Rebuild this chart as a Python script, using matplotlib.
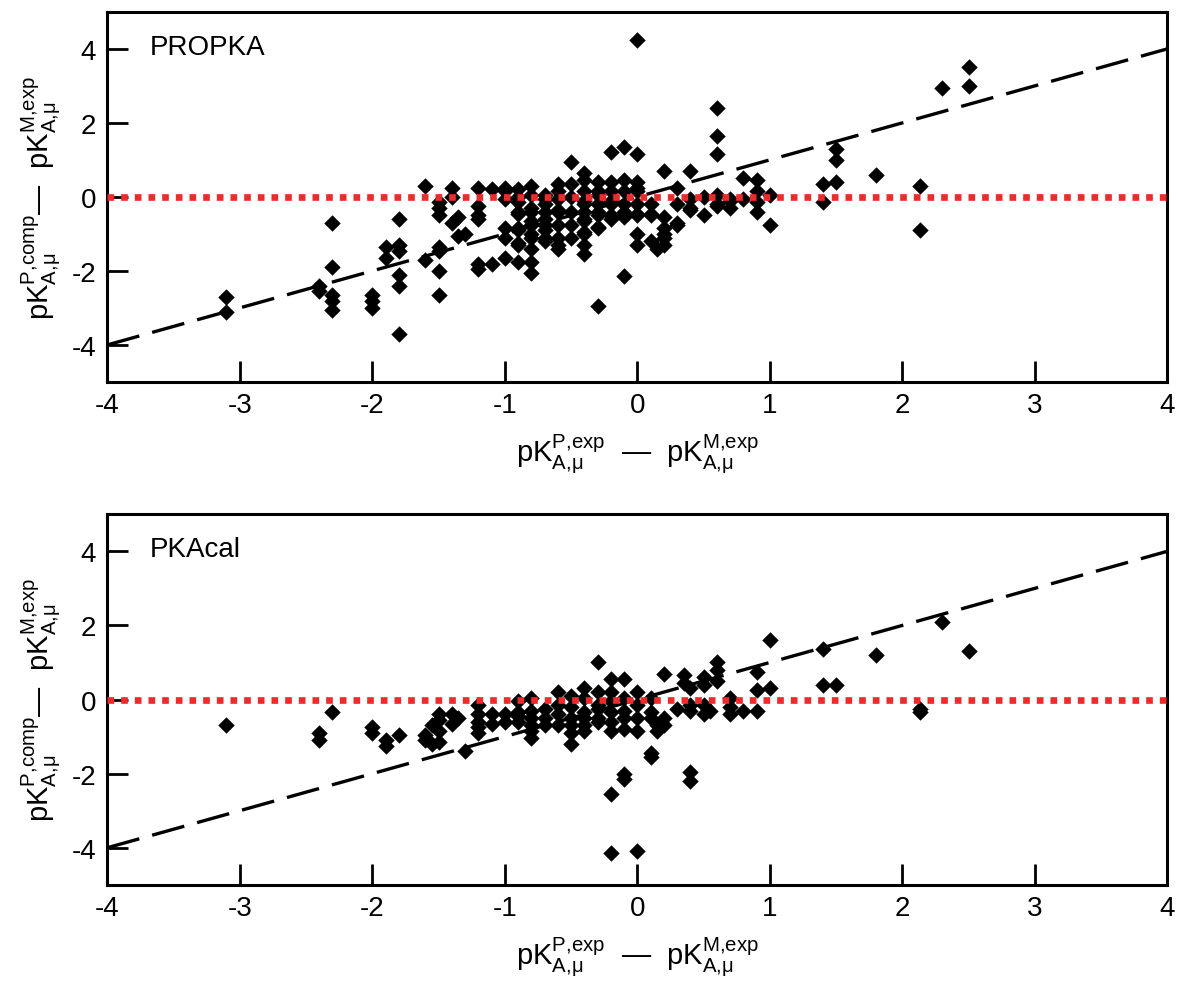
import matplotlib
matplotlib.use("Agg")
import matplotlib.pyplot as plt

plt.rcParams['font.family'] = ['Liberation Sans', 'DejaVu Sans']
plt.rcParams['mathtext.fontset'] = 'custom'
plt.rcParams['mathtext.rm'] = 'Liberation Sans'
plt.rcParams['mathtext.it'] = 'Liberation Sans:italic'
plt.rcParams['mathtext.bf'] = 'Liberation Sans:bold'
plt.rcParams['axes.unicode_minus'] = False

# PROPKA panel: experimental shift (x) vs computed shift (y)
propka_x = [-3.1, -3.1,
            -2.4, -2.4,
            -2.3, -2.3, -2.3, -2.3, -2.3,
            -2.0, -2.0, -2.0,
            -1.9, -1.9,
            -1.8, -1.8, -1.8, -1.8, -1.8, -1.8,
            -1.6, -1.6,
            -1.5, -1.5, -1.5, -1.5, -1.5, -1.5, -1.5,
            -1.4, -1.4, -1.4,
            -1.35, -1.35,
            -1.3,
            -1.2, -1.2, -1.2, -1.2, -1.2, -1.2,
            -1.1, -1.1,
            -1.0, -1.0, -1.0, -1.0, -1.0, -1.0,
            -0.9, -0.9, -0.9, -0.9, -0.9, -0.9, -0.9, -0.9, -0.9, -0.9,
            -0.8, -0.8, -0.8, -0.8, -0.8, -0.8, -0.8, -0.8, -0.8, -0.8, -0.8,
            -0.7, -0.7, -0.7, -0.7, -0.7, -0.7, -0.7, -0.7, -0.7,
            -0.6, -0.6, -0.6, -0.6, -0.6, -0.6, -0.6, -0.6, -0.6,
            -0.5, -0.5, -0.5, -0.5, -0.5, -0.5,
            -0.4, -0.4, -0.4, -0.4, -0.4, -0.4, -0.4, -0.4, -0.4, -0.4, -0.4, -0.4,
            -0.3, -0.3, -0.3, -0.3, -0.3, -0.3, -0.3, -0.3, -0.3,
            -0.2, -0.2, -0.2, -0.2, -0.2, -0.2, -0.2,
            -0.1, -0.1, -0.1, -0.1, -0.1, -0.1, -0.1, -0.1,
            0.0, 0.0, 0.0, 0.0, 0.0, 0.0, 0.0, 0.0, 0.0, 0.0,
            0.1, 0.1, 0.1, 0.1,
            0.15,
            0.2, 0.2, 0.2, 0.2, 0.2, 0.2,
            0.3, 0.3, 0.3, 0.3,
            0.4, 0.4, 0.4, 0.4,
            0.5, 0.5,
            0.6, 0.6, 0.6, 0.6, 0.6, 0.6,
            0.7, 0.7, 0.7,
            0.8, 0.8,
            0.9, 0.9, 0.9, 0.9,
            1.0, 1.0,
            1.4, 1.4,
            1.5, 1.5, 1.5,
            1.8,
            2.13, 2.13,
            2.3,
            2.5, 2.5]
propka_y = [-3.1, -2.7,
            -2.4, -2.55,
            -0.7, -1.9, -2.65, -2.8, -3.05,
            -2.65, -2.8, -3.0,
            -1.35, -1.65,
            -0.6, -1.3, -1.45, -2.1, -2.4, -3.7,
            0.3, -1.7,
            -0.5, -0.3, -0.15, -1.35, -1.45, -2.0, -2.65,
            0.25, 0.0, -0.7,
            -0.55, -1.05,
            -1.0,
            0.25, -0.25, -0.5, -0.6, -1.8, -1.95,
            0.2, -1.8,
            0.25, 0.15, -0.05, -0.85, -1.1, -1.65,
            0.2, 0.0, -0.15, -0.4, -0.45, -0.85, -0.9, -1.25, -1.3, -1.75,
            0.3, 0.05, -0.3, -0.4, -0.65, -0.75, -1.0, -1.1, -1.4, -1.75, -2.05,
            0.05, -0.05, -0.2, -0.4, -0.6, -0.75, -0.9, -1.1, -1.2,
            0.35, 0.15, -0.05, -0.35, -0.4, -0.75, -1.1, -1.3, -1.4,
            0.95, 0.35, 0.0, -0.4, -0.75, -1.1,
            0.65, 0.45, 0.15, -0.1, -0.2, -0.4, -0.6, -0.65, -0.95, -1.0, -1.3, -1.55,
            0.4, 0.15, 0.05, -0.2, -0.4, -0.5, -0.8, -0.85, -2.95,
            1.2, 0.4, 0.15, -0.1, -0.2, -0.5, -0.6,
            1.35, 0.45, 0.15, -0.2, -0.4, -0.5, -0.55, -2.15,
            4.25, 1.15, 0.4, 0.25, 0.15, -0.2, -0.45, -0.5, -1.0, -1.3,
            -0.2, -0.45, -0.5, -1.2,
            -1.4,
            0.7, -0.55, -0.85, -1.0, -1.1, -1.3,
            0.25, -0.2, -0.7, -0.75,
            0.7, -0.05, -0.3, -0.35,
            0.0, -0.5,
            2.4, 1.65, 1.15, 0.05, -0.2, -0.25,
            -0.05, -0.1, -0.3,
            0.5, -0.05,
            0.45, 0.15, -0.15, -0.4,
            0.05, -0.75,
            0.35, -0.15,
            1.3, 1.0, 0.4,
            0.6,
            0.3, -0.9,
            2.95,
            3.5, 3.0]

# PKAcal panel
pkacal_x = [-3.1,
            -2.4, -2.4,
            -2.3,
            -2.0, -2.0,
            -1.9, -1.9,
            -1.8,
            -1.6, -1.6,
            -1.55, -1.55,
            -1.5, -1.5, -1.5, -1.5,
            -1.4, -1.4,
            -1.35,
            -1.3,
            -1.2, -1.2, -1.2, -1.2, -1.2,
            -1.1, -1.1,
            -1.0, -1.0,
            -0.9, -0.9, -0.9, -0.9,
            -0.8, -0.8, -0.8, -0.8, -0.8, -0.8,
            -0.7, -0.7, -0.7,
            -0.6, -0.6, -0.6, -0.6,
            -0.5, -0.5, -0.5, -0.5, -0.5, -0.5,
            -0.4, -0.4, -0.4, -0.4, -0.4, -0.4,
            -0.3, -0.3, -0.3, -0.3, -0.3, -0.3,
            -0.2, -0.2, -0.2, -0.2, -0.2, -0.2, -0.2, -0.2,
            -0.1, -0.1, -0.1, -0.1, -0.1, -0.1, -0.1,
            0.0, 0.0, 0.0, 0.0, 0.0,
            0.1, 0.1, 0.1, 0.1, 0.1,
            0.15, 0.15,
            0.2, 0.2, 0.2,
            0.3,
            0.35, 0.35,
            0.4, 0.4, 0.4, 0.4, 0.4,
            0.5, 0.5, 0.5, 0.5,
            0.55,
            0.6, 0.6, 0.6,
            0.7, 0.7, 0.7,
            0.8,
            0.9, 0.9, 0.9,
            1.0, 1.0,
            1.4, 1.4,
            1.5,
            1.8,
            2.13, 2.13,
            2.3,
            2.5]
pkacal_y = [-0.7,
            -0.9, -1.1,
            -0.35,
            -0.75, -0.9,
            -1.1, -1.25,
            -0.95,
            -0.95, -1.1,
            -0.7, -1.2,
            -0.4, -0.55, -0.85, -1.15,
            -0.4, -0.65,
            -0.5,
            -1.4,
            -0.15, -0.4, -0.6, -0.75, -0.9,
            -0.4, -0.65,
            -0.4, -0.6,
            -0.05, -0.35, -0.45, -0.6,
            0.05, -0.3, -0.5, -0.7, -0.85, -1.05,
            -0.25, -0.5, -0.7,
            0.2, -0.15, -0.4, -0.7,
            0.1, -0.2, -0.5, -0.7, -0.9, -1.2,
            0.3, 0.05, -0.35, -0.5, -0.7, -0.85,
            1.0, 0.2, -0.15, -0.25, -0.5, -0.6,
            0.55, 0.2, -0.05, -0.35, -0.6, -0.85, -2.55, -4.15,
            0.55, 0.05, -0.3, -0.5, -0.8, -2.0, -2.15,
            0.2, -0.15, -0.5, -0.85, -4.1,
            0.05, -0.35, -0.5, -1.45, -1.55,
            -0.7, -0.85,
            0.7, -0.5, -0.7,
            -0.25,
            0.65, 0.45,
            0.3, -0.15, -0.3, -1.95, -2.2,
            0.6, 0.4, -0.15, -0.4,
            -0.3,
            1.0, 0.8, 0.5,
            0.05, -0.2, -0.4,
            -0.3,
            0.75, 0.25, -0.3,
            1.6, 0.3,
            1.35, 0.4,
            0.4,
            1.2,
            -0.25, -0.35,
            2.1,
            1.3]

panels = [("PROPKA", propka_x, propka_y), ("PKAcal", pkacal_x, pkacal_y)]

xlab = (r'$\mathrm{pK}_{\mathrm{A{,}\mu}}^{\mathrm{P{,}exp}}$  —  '
        r'$\mathrm{pK}_{\mathrm{A{,}\mu}}^{\mathrm{M{,}exp}}$')
ylab = (r'$\mathrm{pK}_{\mathrm{A{,}\mu}}^{\mathrm{P{,}comp}}$—  '
        r'$\mathrm{pK}_{\mathrm{A{,}\mu}}^{\mathrm{M{,}exp}}$')

fig = plt.figure(figsize=(11.78, 9.87), dpi=100)
boxes = [[0.091, 0.612, 0.9, 0.375], [0.091, 0.1025, 0.9, 0.3755]]

for (name, xs, ys), box in zip(panels, boxes):
    ax = fig.add_axes(box)
    ax.scatter(xs, ys, marker='D', s=70, color='black', linewidths=0, zorder=2)
    ax.plot([-4, 4], [-4, 4], color='black', lw=2.4, dashes=(10, 4), zorder=3)
    ax.plot([-4, 4], [0, 0], color='#ee2a2a', lw=4.8, dashes=(1, 1.05),
            solid_capstyle='butt', dash_capstyle='butt', zorder=4, clip_on=False)
    ax.set_xlim(-4, 4)
    ax.set_ylim(-5, 5)
    ax.set_xticks(range(-4, 5))
    ax.set_yticks([-4, -2, 0, 2, 4])
    ax.tick_params(direction='in', length=15, width=2, labelsize=20, pad=7)
    ax.tick_params(axis='y', pad=8)
    for sp in ax.spines.values():
        sp.set_linewidth(2.2)
    ax.text(0.04, 0.905, name, transform=ax.transAxes, fontsize=20,
            ha='left', va='center')
    ax.set_xlabel(xlab, fontsize=21, labelpad=10)
    ax.set_ylabel(ylab, fontsize=21, labelpad=6)

fig.savefig("out.png", dpi=100)
